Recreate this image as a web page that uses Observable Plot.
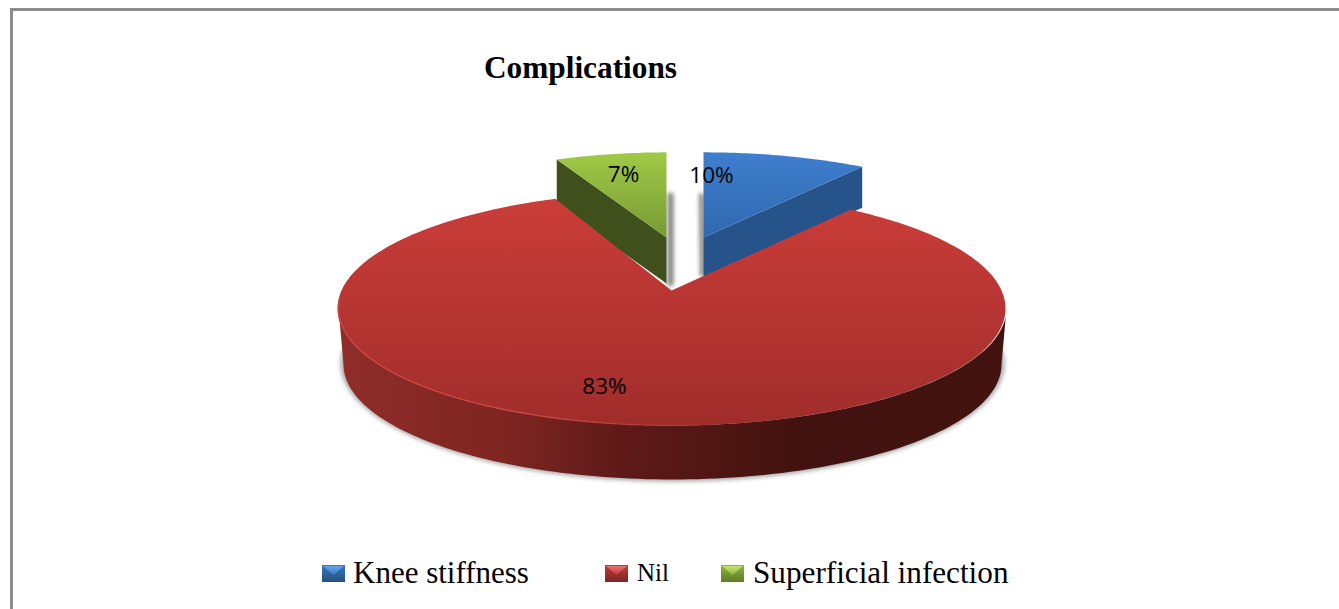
<!DOCTYPE html>
<html>
<head>
<meta charset="utf-8">
<script src="https://cdn.jsdelivr.net/npm/d3@7"></script>
<script src="https://cdn.jsdelivr.net/npm/@observablehq/plot@0.6"></script>
<style>
html,body{margin:0;padding:0;background:#fff;}
#page{position:relative;width:1339px;height:609px;overflow:hidden;background:#fff;}
#frameTop{position:absolute;left:10px;top:8px;width:1329px;height:3px;background:#8c8c8c;}
#frameLeft{position:absolute;left:10px;top:8px;width:3px;height:601px;background:#8c8c8c;}
#title{position:absolute;left:484px;top:49px;font:bold 31.3px "Liberation Serif",serif;color:#000;line-height:38px;white-space:nowrap;}
#chart{position:absolute;left:0;top:130px;}
.leg{position:absolute;font-family:"Liberation Serif",serif;color:#000;white-space:nowrap;line-height:36px;top:555px;}
.swatch{position:absolute;top:565px;width:23px;height:17px;}
.blur2{filter:blur(2px);}
</style>
</head>
<body>
<div id="page">
  <div id="frameTop"></div>
  <div id="frameLeft"></div>
  <div id="title"></div>
  <div id="chart"></div>
</div>
<script>
const chartTitle = "Complications";
const categories = ["Knee stiffness", "Nil", "Superficial infection"];
const values = [10, 83, 7];
const labels = ["10%", "83%", "7%"];
const topColors = [["#3f7fcf", "#2f68ad"], ["#cb3d39", "#a02d2b"], ["#9fca45", "#789a35"]];
const wallColors = ["#25538a", "#8f2d29", "#40501c"];
const swatchLight = ["#62a6ee", "#e5736e", "#c4e56e"];
const swatchMid = ["#3a78c0", "#c03c38", "#8fb63f"];
const swatchDark = ["#24507f", "#7c2523", "#5e7a28"];
const legendLeft = [353, 637, 753];
const legendSwatchLeft = [322, 605, 721];
const legendSize = [31, 25, 31.2];
const labelX = [711, 604, 623];
const labelY = [175, 386, 174];

// Pie geometry on the page (pixels of the x / y scales)
const disc = {cx: 672, cy: 308, rx: 334, ry: 117, t: 0.154};
const base = {cx: 672, cy: 364, rx: 329, ry: 115};
const sliceLayout = [
  {dx: 31, dy: -53, sx: 0.92, sy: 0.86, wall: 41, turn: 0},
  {dx: -1, dy: 0, sx: 1, sy: 1, wall: 54, turn: 1.5},
  {dx: -6, dy: -53, sx: 0.89, sy: 0.86, wall: 46, turn: 0}
];

// Projective view of the pie circle: angle → point on the tilted disc
function project(theta) {
  const u = Math.cos(theta), s = Math.sin(theta), t = disc.t;
  const d = 1 + t * u;
  return [disc.cx + disc.rx * s * Math.sqrt(1 - t * t) / d, disc.cy - disc.ry * (u + t) / d];
}
const apex = [disc.cx, disc.cy - disc.ry * disc.t];

const cum = d3.cumsum(values);
const total = cum[cum.length - 1];
const slices = values.map((v, i) => {
  const L = sliceLayout[i];
  const rot = L.turn * Math.PI / 180;
  const a0 = ((cum[i] - v) / total) * 2 * Math.PI + rot;
  const a1 = (cum[i] / total) * 2 * Math.PI + rot;
  const ox = apex[0] + L.dx, oy = apex[1] + L.dy;
  const place = ([x, y]) => ({x: ox + (x - apex[0]) * L.sx, y: oy + (y - apex[1]) * L.sy});
  const n = Math.max(8, Math.round((a1 - a0) * 60));
  const arc = d3.range(n + 1).map(k => place(project(a0 + (a1 - a0) * k / n)));
  return {i, a0, a1, o: {x: ox, y: oy}, arc, wall: L.wall};
});
const topFace = s => [s.o, ...s.arc, s.o];
// cut-face wall below one radius of an exploded slice
const radiusWall = (s, p) => [s.o, p, {x: p.x, y: p.y + s.wall}, {x: s.o.x, y: s.o.y + s.wall}, s.o];
const ellipseArc = (e, from, to, n = 120) => d3.range(n + 1).map(k => {
  const a = from + (to - from) * k / n;
  return {x: e.cx + e.rx * Math.cos(a), y: e.cy + e.ry * Math.sin(a)};
});
const frontWall = [...ellipseArc(disc, 0, Math.PI), ...ellipseArc(base, Math.PI, 0)];
const shadowEllipse = ellipseArc({cx: base.cx, cy: base.cy - 1, rx: base.rx + 3, ry: base.ry + 3}, -0.12, Math.PI + 0.12);
const [blue, red, green] = slices;
const rim = ellipseArc(disc, Math.PI * 0.45, Math.PI * 1.03);

const poly = (data, fill, extra = {}) => Plot.line(data, {x: "x", y: "y", fill, stroke: "none", curve: "linear", ...extra});

function gradient(id, stops, horizontal) {
  const g = d3.create("svg:linearGradient").attr("id", id).attr("x1", 0).attr("y1", 0)
    .attr("x2", horizontal ? 1 : 0).attr("y2", horizontal ? 0 : 1);
  stops.forEach(([o, c, op]) => g.append("stop").attr("offset", o).attr("stop-color", c).attr("stop-opacity", op ?? 1));
  return g.node();
}
const defs = () => {
  const d = d3.create("svg:defs");
  [0, 1, 2].forEach(i => d.node().append(gradient("top" + i, [[0, topColors[i][0]], [1, topColors[i][1]]], false)));
  d.node().append(gradient("wallRed", [[0, wallColors[1]], [0.25, "#7e2522"], [0.42, "#5f1a18"], [0.7, "#41120f"], [1, "#43130f"]], true));
  d.node().append(gradient("rimRed", [[0, "#c94842", 0.9], [0.55, "#c94842", 0.9], [1, "#c94842", 0]], true));
  return d.node();
};

const chart = Plot.plot({
  width: 1339,
  height: 400,
  margin: 0,
  x: {domain: [0, 1339], range: [0, 1339], axis: null},
  y: {domain: [130, 530], range: [0, 400], axis: null},
  marks: [
    defs,
    poly(shadowEllipse, "#a8a8a8", {className: "blur2"}),
    // gap shadows next to the exploded slices
    Plot.line([{x: blue.o.x - 2, y: 195}, {x: blue.o.x - 1, y: 274}], {x: "x", y: "y", stroke: "#808080", strokeWidth: 5, className: "blur2"}),
    Plot.line([{x: green.o.x + 4, y: 195}, {x: green.o.x + 4, y: 283}], {x: "x", y: "y", stroke: "#808080", strokeWidth: 6, className: "blur2"}),
    // knee stiffness
    poly(radiusWall(blue, blue.arc[blue.arc.length - 1]), wallColors[0]),
    poly(topFace(blue), "url(#top0)"),
    // superficial infection
    poly(radiusWall(green, green.arc[0]), wallColors[2]),
    poly(topFace(green), "url(#top2)"),
    // nil
    poly(frontWall, "url(#wallRed)"),
    poly(topFace(red), "url(#top1)"),
    Plot.line(rim, {x: "x", y: "y", stroke: "url(#rimRed)", strokeWidth: 1.5}),
    Plot.text([0, 1, 2], {
      x: i => labelX[i],
      y: i => labelY[i],
      text: i => labels[i],
      fontFamily: "Open Sans, Noto Sans, sans-serif",
      fontSize: 22.5,
      fill: "#000"
    })
  ]
});
document.getElementById("chart").append(chart);
document.getElementById("title").textContent = chartTitle;

const page = document.getElementById("page");
categories.forEach((name, i) => {
  const t = document.createElement("div");
  t.className = "leg";
  t.style.left = legendLeft[i] + "px";
  t.style.fontSize = legendSize[i] + "px";
  t.textContent = name;
  page.append(t);
  const s = document.createElement("div");
  s.className = "swatch";
  s.style.left = legendSwatchLeft[i] + "px";
  s.innerHTML = `<svg width="23" height="17" viewBox="0 0 23 17"><defs><linearGradient id="sb${i}" x1="0" y1="0" x2="0" y2="1"><stop offset="0" stop-color="${swatchMid[i]}"/><stop offset="1" stop-color="${swatchDark[i]}"/></linearGradient><linearGradient id="st${i}" x1="0" y1="0" x2="0" y2="1"><stop offset="0" stop-color="${swatchLight[i]}"/><stop offset="1" stop-color="${swatchMid[i]}"/></linearGradient></defs><rect width="23" height="17" fill="url(#sb${i})"/><polygon points="1,1 22,1 11.5,10" fill="url(#st${i})"/></svg>`;
  page.append(s);
});
</script>
</body>
</html>
